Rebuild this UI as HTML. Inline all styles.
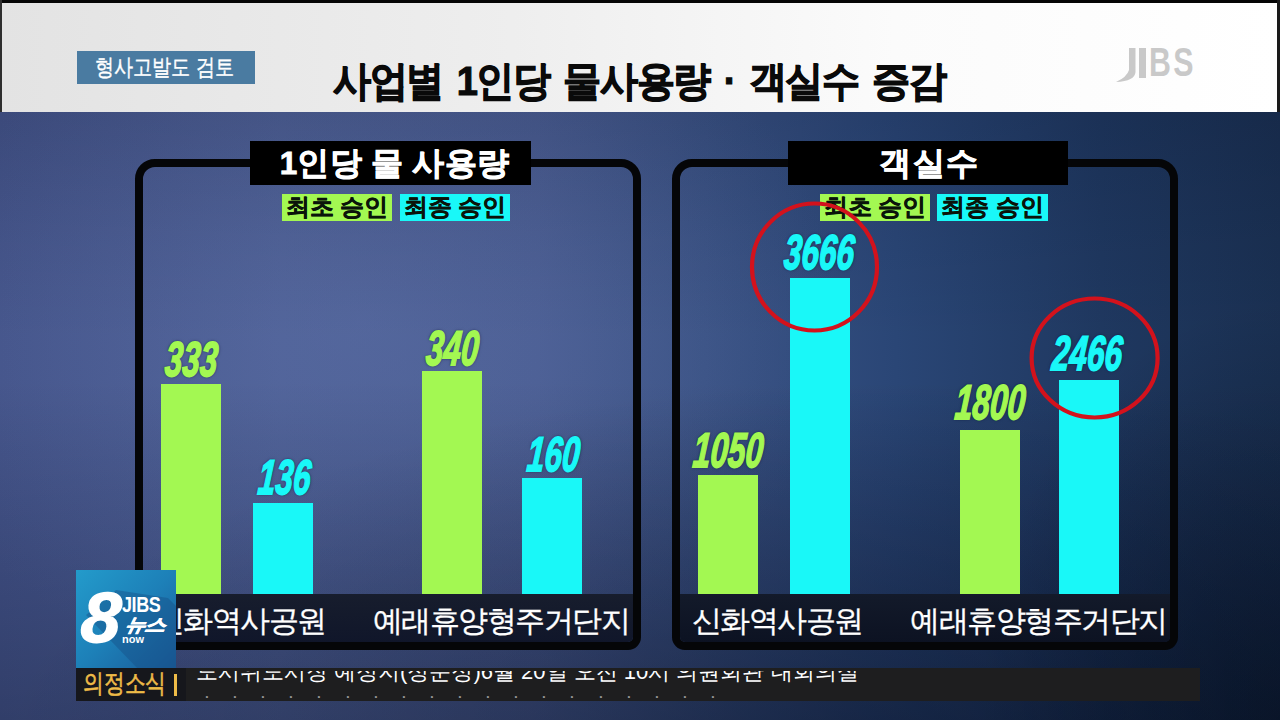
<!DOCTYPE html>
<html><head><meta charset="utf-8">
<style>
*{margin:0;padding:0;box-sizing:border-box}
html,body{width:1280px;height:720px;overflow:hidden;background:#000}
body{position:relative;font-family:"Liberation Sans",sans-serif}
.abs{position:absolute}
#bg{left:0;top:0;width:1280px;height:720px;
 background:
  radial-gradient(ellipse 480px 380px at 360px 320px, rgba(100,120,175,0.35), rgba(100,120,175,0) 100%),
  linear-gradient(90deg,#44548a 0%,#4c5e94 22%,#485b90 42%,#3a5284 55%,#2a4676 70%,#1f3860 86%,#1a3052 100%);}
#bgshade{left:0;top:0;width:1280px;height:720px;
 background:radial-gradient(ellipse 900px 380px at 900px 760px, rgba(0,5,20,.35), rgba(0,5,20,0) 100%),
 radial-gradient(ellipse 300px 420px at 1280px 720px, rgba(0,8,18,.4), rgba(0,8,18,0) 100%),
 linear-gradient(180deg,rgba(0,5,25,.14) 112px,rgba(0,5,25,.05) 240px,rgba(0,0,0,0) 340px,rgba(0,0,0,0) 380px,rgba(0,5,25,.16) 580px,rgba(0,5,20,.28) 720px)}
#topbar{left:0;top:0;width:1280px;height:3px;background:#050505}
#header{left:2px;top:3px;width:1275px;height:109px;background:linear-gradient(90deg,#e3e3e3 0%,#eeeeee 40%,#fbfbfb 70%,#ffffff 100%)}
#hdrline{left:0;top:111px;width:1280px;height:2px;background:#2b3a5e}
#lstrip{left:0;top:0;width:2px;height:112px;background:#2e2e2e}
#rstrip{left:1277px;top:0;width:3px;height:112px;background:#1a1a1a}
#tag{left:77px;top:51px;width:178px;height:33px;background:#4a7ba1}
#tagt{left:94.5px;top:51px;color:#fff;font-size:23px;line-height:33px;white-space:nowrap;transform:scaleX(.83);-webkit-text-stroke:.4px #fff;transform-origin:0 0}
#title{left:333px;top:54px;-webkit-text-stroke:1.1px #0a0a0a;font-size:41px;font-weight:bold;color:#0a0a0a;white-space:nowrap;letter-spacing:-1.6px;word-spacing:5px;transform:scaleX(.93);transform-origin:0 0}
.panel{top:159px;width:506px;height:491px;border:8px solid #050608;border-radius:20px 20px 13px 13px;overflow:hidden}
.strip{left:0;top:427px;width:100%;height:49px;background:linear-gradient(180deg,#171d2d,#10162a)}
.ptitle{top:141px;height:44px;background:#000;color:#fff;font-size:31.5px;font-weight:bold;-webkit-text-stroke:.8px #fff;text-align:center;line-height:44px}
.leg{top:194px;height:27px;font-size:23.5px;font-weight:bold;color:#0a140a;text-align:center;line-height:27px;white-space:nowrap;-webkit-text-stroke:.4px #0a140a}
.g{background:#a3f852}
.c{background:#19f8f8}
.num{font-size:49px;font-weight:bold;font-style:italic;white-space:nowrap;transform-origin:0 46px;transform:skewX(-5deg) scaleX(.64);text-shadow:0 0 2px rgba(5,15,50,.95),0 0 4px rgba(5,15,50,.6);-webkit-text-stroke:1.8px currentColor}
.ng{color:#a3f852}
.nc{color:#19f8f8}
.cat{top:601px;font-size:30px;color:#fff;white-space:nowrap;letter-spacing:0px;-webkit-text-stroke:.3px #fff}

#logo{left:76px;top:570px;width:100px;height:99px;overflow:hidden;background:linear-gradient(135deg,#239bcb 0%,#1d80b8 50%,#1a5a98 100%)}
#l8{left:3px;top:12px;font-size:71px;font-weight:bold;font-style:italic;color:#fff;line-height:1;-webkit-text-stroke:1.5px #fff;transform:skewX(-4deg);transform-origin:0 100%}
#ljibs{left:46px;top:24px;font-size:22px;font-weight:bold;color:#fff;line-height:1;transform:scaleX(.82);transform-origin:0 0;letter-spacing:-.5px}
#lnews{left:47px;top:46px;font-size:18px;font-weight:bold;font-style:italic;color:#fff;line-height:1;transform:skewX(-12deg) scaleX(1.15);transform-origin:0 100%;-webkit-text-stroke:.6px #fff}
#lnow{left:46px;top:64px;font-size:11px;font-weight:bold;color:#fff;line-height:1}
#ticker{left:76px;top:668px;width:1124px;height:33px;background:#1e1e1f}
#tkleft{left:0;top:0;width:110px;height:33px;background:#16171c}
#tklabel{left:6.5px;top:0px;font-size:26px;color:#eebb48;line-height:30px;white-space:nowrap;transform:scaleX(.8);transform-origin:0 0;-webkit-text-stroke:.6px #eebb48}
#tkbar{left:98px;top:6px;width:2.5px;height:22px;background:#eebb48}
#tkclip{left:110px;top:3px;width:1014px;height:30px;overflow:hidden}
#tk1{left:10px;top:-12px;font-size:22px;color:#fff;white-space:nowrap;line-height:26px}
#tk2{left:10px;top:15px;font-size:22px;color:#999;white-space:nowrap;line-height:26px}
#jibs{left:1149px;top:42px;font-size:41px;font-weight:bold;color:#c9c9c9;transform:scaleX(.74);transform-origin:0 0;letter-spacing:3px;line-height:1}
</style></head><body>
<div id="bg" class="abs"></div>
<div id="bgshade" class="abs"></div>
<div id="topbar" class="abs"></div>
<div id="header" class="abs"></div>
<div id="rstrip" class="abs"></div><div id="lstrip" class="abs"></div>
<div id="tag" class="abs"></div><div id="tagt" class="abs">형사고발도 검토</div>
<div id="title" class="abs">사업별 1인당 물사용량 · 객실수 증감</div>

<!-- panels -->
<div class="panel abs" style="left:135px"><div class="strip abs"></div></div>
<div class="panel abs" style="left:672px"><div class="strip abs" style="background:linear-gradient(180deg,#131a2a,#0c1222)"></div></div>

<div class="ptitle abs" style="left:250px;width:281px;padding-left:8px;letter-spacing:.3px">1인당 물 사용량</div>
<div class="ptitle abs" style="left:788px;width:280px;padding-left:3px;letter-spacing:1.5px">객실수</div>

<div class="leg g abs" style="left:282px;width:110px">최초 승인</div>
<div class="leg c abs" style="left:400px;width:110px">최종 승인</div>
<div class="leg g abs" style="left:820px;width:110px">최초 승인</div>
<div class="leg c abs" style="left:937px;width:111px">최종 승인</div>

<!-- bars left -->
<div class="bar g abs" style="left:161px;top:384px;width:60px;height:210px"></div>
<div class="bar c abs" style="left:253px;top:503px;width:60px;height:91px"></div>
<div class="bar g abs" style="left:422px;top:371px;width:60px;height:223px"></div>
<div class="bar c abs" style="left:522px;top:478px;width:60px;height:116px"></div>
<!-- bars right -->
<div class="bar g abs" style="left:698px;top:475px;width:60px;height:119px"></div>
<div class="bar c abs" style="left:790px;top:278px;width:60px;height:316px"></div>
<div class="bar g abs" style="left:960px;top:430px;width:60px;height:164px"></div>
<div class="bar c abs" style="left:1059px;top:380px;width:60px;height:214px"></div>

<!-- numbers -->
<div class="num ng abs" style="left:164px;top:331px">333</div>
<div class="num nc abs" style="left:257px;top:449px">136</div>
<div class="num ng abs" style="left:425px;top:320px">340</div>
<div class="num nc abs" style="left:526px;top:426px">160</div>
<div class="num ng abs" style="left:692px;top:422px">1050</div>
<div class="num nc abs" style="left:783px;top:224px">3666</div>
<div class="num ng abs" style="left:954px;top:374px">1800</div>
<div class="num nc abs" style="left:1051px;top:325px">2466</div>

<!-- circles -->
<svg class="abs" style="left:0;top:0" width="1280" height="720">
 <ellipse cx="814.5" cy="267" rx="62.5" ry="63.5" fill="none" stroke="#d3121c" stroke-width="4.2"/>
 <ellipse cx="1094.6" cy="358" rx="63" ry="59.5" fill="none" stroke="#d3121c" stroke-width="4.2"/>
</svg>

<div class="cat abs" style="left:155px;letter-spacing:-1.6px">신화역사공원</div>
<div class="cat abs" style="left:372.5px;letter-spacing:-1.5px">예래휴양형주거단지</div>
<div class="cat abs" style="left:692px;letter-spacing:-1.6px">신화역사공원</div>
<div class="cat abs" style="left:910px;letter-spacing:-1.5px">예래휴양형주거단지</div>


<!-- logo -->
<div id="logo" class="abs">
 <svg class="abs" style="left:0;top:0" width="100" height="99">
  <polygon points="10,45 40,20 92,28 100,36 100,99 62,99" fill="#174f88" opacity=".45"/>
 </svg>
 <div id="l8" class="abs">8</div>
 <div id="ljibs" class="abs">JIBS</div>
 <div id="lnews" class="abs">뉴스</div>
 <div id="lnow" class="abs">now</div>
</div>
<!-- ticker -->
<div id="ticker" class="abs">
 <div id="tkleft" class="abs"></div>
 <div id="tklabel" class="abs">의정소식</div>
 <div id="tkbar" class="abs"></div>
 <div id="tkclip" class="abs">
  <div id="tk1" class="abs">도시위도시장 예정지(정문정)6월 20일 오전 10시 의원회관 대회의실</div>
  <div id="tk2" class="abs">ㆍ ㆍ ㆍ   ㆍ ㆍ ㆍ ㆍ ㆍ ㆍ ㆍ ㆍ  ㆍ ㆍ ㆍ ㆍ ㆍ ㆍ  ㆍ ㆍ</div>
 </div>
</div>
<!-- JIBS top logo -->
<svg class="abs" style="left:1100px;top:40px" width="100" height="50">
 <path d="M29 8 H35.5 V32 Q35 41 16 42 Q27 37 29 30 Z" fill="#c9c9c9"/>
 <rect x="39" y="8" width="7" height="30" fill="#c9c9c9"/>
</svg>
<div id="jibs" class="abs">BS</div>
</body></html>
